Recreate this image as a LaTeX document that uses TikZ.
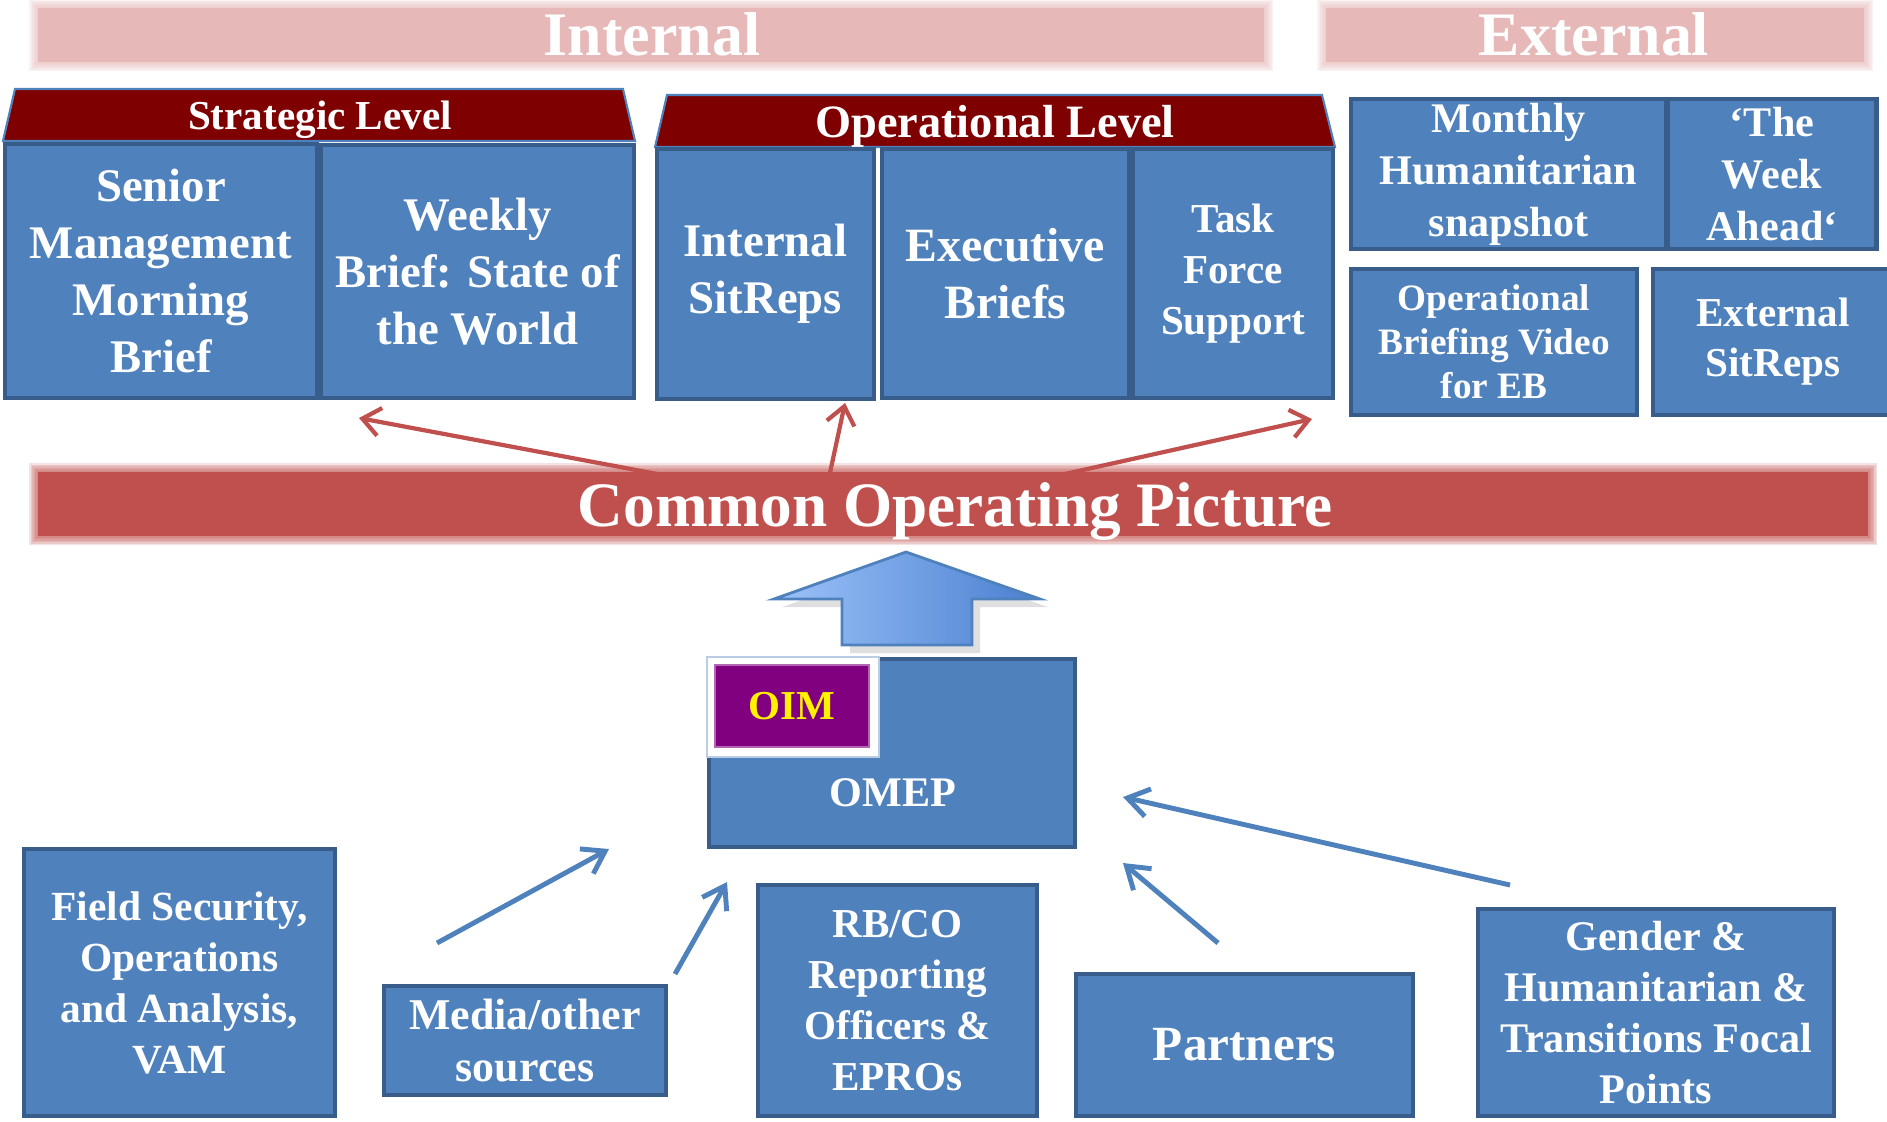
\documentclass[tikz,border=0pt]{standalone}
\usepackage{fontspec}
\setmainfont{Liberation Serif}
\usetikzlibrary{arrows.meta,shadows}
\definecolor{boxfill}{HTML}{4F81BD}
\definecolor{boxline}{HTML}{385D8A}
\definecolor{levelred}{HTML}{7F0000}
\definecolor{bandpink}{HTML}{E6B9B8}
\definecolor{copred}{HTML}{C0504D}
\definecolor{oimpurple}{HTML}{800080}
\definecolor{uplight}{HTML}{9CC2F9}
\definecolor{updark}{HTML}{4A80D0}

\begin{document}
\begin{tikzpicture}[x=0.1mm, y=-0.1mm,
  box/.style={draw=boxline, fill=boxfill, line width=1.4pt, text=white, align=center, inner sep=0pt},
  txt/.style 2 args={font=\fontsize{#1}{#2}\selectfont\bfseries},
  level/.style={fill=levelred, draw=boxfill, line width=0.6pt},
  redarrow/.style={copred, line width=1.2pt, -{Straight Barb[length=5pt,width=8pt]}},
  bluearrow/.style={boxfill, line width=1.4pt, -{Straight Barb[length=6pt,width=8pt]}}]
\useasboundingbox (0,0) rectangle (1887,1121);

% arrows out of the common picture
\coordinate (cop-l) at (700,482);
\coordinate (cop-m) at (828,482);
\coordinate (cop-r) at (1029,482);
\coordinate (str-in) at (359,418);
\coordinate (isr-in) at (845,403);
\coordinate (tfs-in) at (1312,419);
\draw[redarrow] (cop-l) -- (str-in);
\draw[redarrow] (cop-m) -- (isr-in);
\draw[redarrow] (cop-r) -- (tfs-in);

% soft bands
\foreach \d in {1.5,3,...,9} {
  \fill[bandpink, opacity=0.17] (38-\d,8-\d) rectangle (1264+\d,62+\d);
  \fill[bandpink, opacity=0.17] (1326-\d,8-\d) rectangle (1864+\d,62+\d);
  \fill[copred, opacity=0.17] (38-\d,472-\d) rectangle (1868+\d,536+\d);
}
\fill[bandpink] (38,8) rectangle (1264,62);
\fill[bandpink] (1326,8) rectangle (1864,62);
\fill[copred] (38,472) rectangle (1868,536);
\node[anchor=base, text=white, txt={17.6}{20}] (internal) at (652,55) {Internal};
\node[anchor=base, text=white, txt={17.6}{20}] (external) at (1594,55) {External};
\node[anchor=base, text=white, txt={18}{20}] (cop) at (955,526) {Common Operating Picture};

% level headers
\filldraw[level] (15,89) -- (623,89) -- (635,141) -- (3,141) -- cycle;
\filldraw[level] (667,95) -- (1322,95) -- (1335,147) -- (655,147) -- cycle;
\node[anchor=base, text=white, txt={11.7}{14}] (strategic) at (320,129) {Strategic Level};
\node[anchor=base, text=white, txt={13.2}{15}] (operational) at (995,137) {Operational Level};

% products
\node[box, txt={13.3}{16.2}, minimum width=3.12cm, minimum height=2.54cm] (sm) at (161,271) {Senior\\Management\\Morning\\Brief};
\node[box, txt={13.3}{16.2}, minimum width=3.13cm, minimum height=2.53cm] (wb) at (477.5,271.5) {Weekly\\Brief: State of\\the World};
\node[box, txt={13.3}{16.2}, minimum width=2.17cm, minimum height=2.50cm] (isr) at (765.5,274) {Internal\\SitReps};
\node[box, txt={13.6}{16.2}, minimum width=2.47cm, minimum height=2.49cm] (eb) at (1005.5,273.5) {Executive\\Briefs};
\node[box, txt={11.7}{14.5}, minimum width=2.00cm, minimum height=2.49cm] (tfs) at (1233,273.5) {Task\\Force\\Support};
\node[box, txt={12}{14.8}, minimum width=3.15cm, minimum height=1.50cm] (mhs) at (1508.5,174) {Monthly\\Humanitarian\\snapshot};
\node[box, txt={12}{14.8}, minimum width=2.09cm, minimum height=1.50cm] (twa) at (1772,174) {‘The\\Week\\Ahead‘};
\node[box, txt={10.6}{12.5}, minimum width=2.86cm, minimum height=1.46cm] (obv) at (1494,342) {Operational\\Briefing Video\\for EB};
\node[box, txt={11.7}{14.2}, minimum width=2.40cm, minimum height=1.46cm] (esr) at (1773,342) {External\\SitReps};

% big arrow up
\shadedraw[left color=uplight, right color=updark, draw=boxfill, line width=0.8pt, drop shadow={opacity=0.25}]
  (906,552) -- (1040,599) -- (972,599) -- (972,645) -- (842,645) -- (842,599) -- (774,599) -- cycle;

% OMEP with OIM
\node[box, minimum width=3.66cm, minimum height=1.88cm] (omep) at (892,753) {};
\node[anchor=base, text=white, txt={12}{14}] (omeplabel) at (893,806) {OMEP};
\node[draw=boxfill!40, fill=white, line width=0.6pt, minimum width=1.72cm, minimum height=1.0cm] (oimframe) at (793,707) {};
\node[fill=oimpurple, draw=oimpurple!60, line width=0.4pt, text=yellow, txt={11.7}{14}, minimum width=1.54cm, minimum height=0.82cm] (oim) at (792,706) {OIM};

% sources
\node[box, txt={11.8}{14.5}, minimum width=3.11cm, minimum height=2.67cm] (fsoa) at (179.5,982.5) {Field Security,\\Operations\\and Analysis,\\VAM};
\node[box, txt={12.5}{14.8}, minimum width=2.82cm, minimum height=1.09cm] (mos) at (525,1040.5) {Media/other\\sources};
\node[box, txt={11.7}{14.5}, minimum width=2.79cm, minimum height=2.31cm] (rbco) at (897.5,1000.5) {RB/CO\\Reporting\\Officers \&\\EPROs};
\node[box, txt={14}{16}, minimum width=3.37cm, minimum height=1.42cm] (prt) at (1244.5,1045) {Partners};
\node[box, txt={12}{14.5}, minimum width=3.56cm, minimum height=2.07cm] (ghtf) at (1656,1012.5) {Gender \&\\Humanitarian \&\\Transitions Focal\\Points};

% arrows into OMEP
\coordinate (fs-out) at (437,943);
\coordinate (fs-in) at (609,849);
\coordinate (mos-out) at (675,974);
\coordinate (mos-in) at (727,882);
\coordinate (prt-out) at (1218,943);
\coordinate (prt-in) at (1123,863);
\coordinate (ghtf-out) at (1510,885);
\coordinate (ghtf-in) at (1123,797);
\draw[bluearrow] (fs-out) -- (fs-in);
\draw[bluearrow] (mos-out) -- (mos-in);
\draw[bluearrow] (prt-out) -- (prt-in);
\draw[bluearrow] (ghtf-out) -- (ghtf-in);
\end{tikzpicture}
\end{document}
